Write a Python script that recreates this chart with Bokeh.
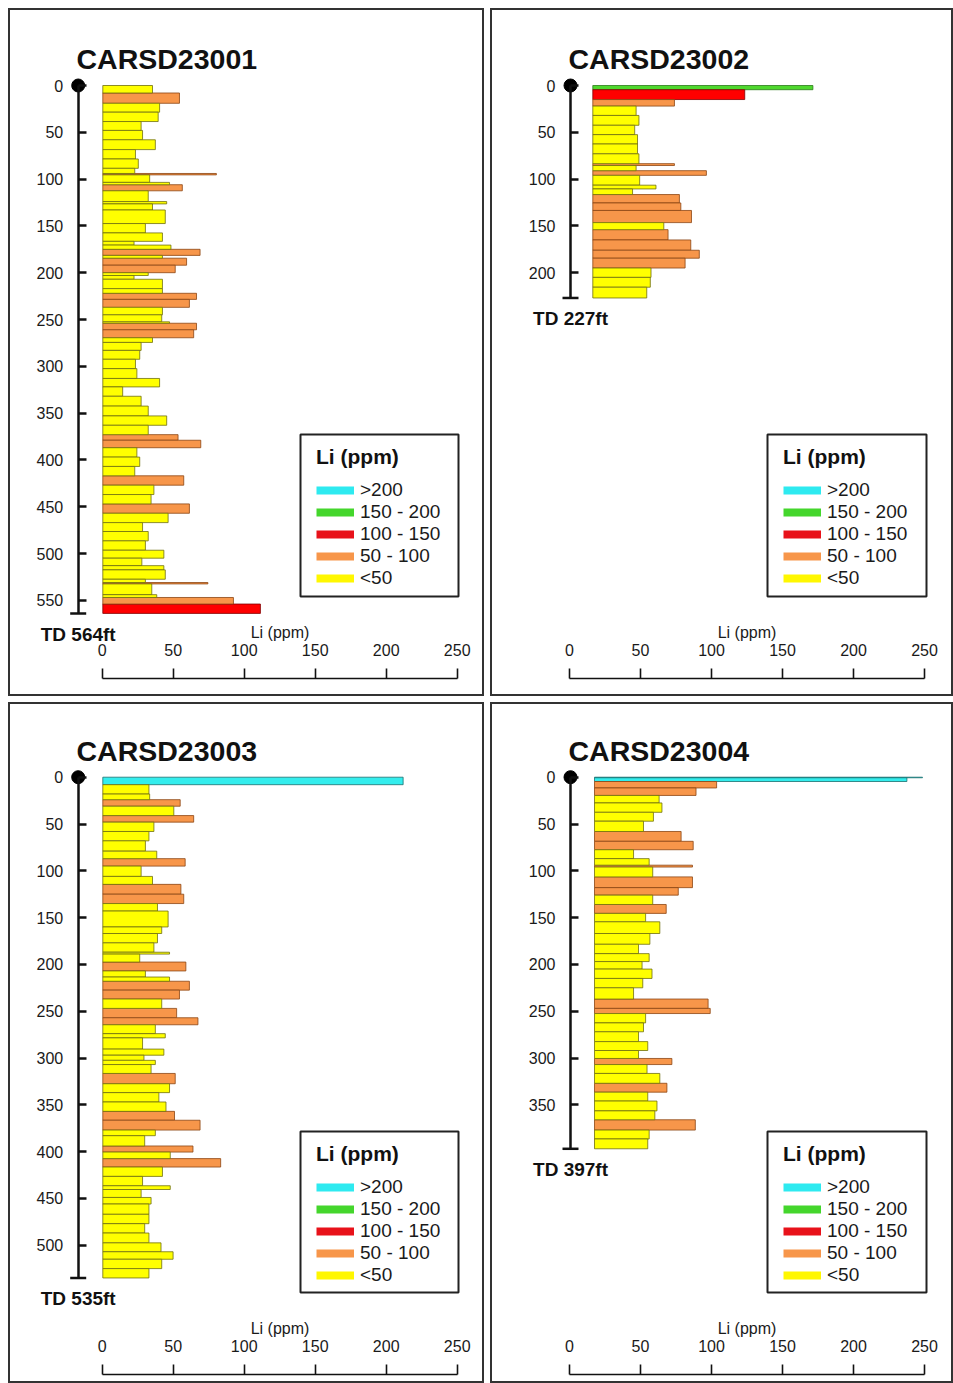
from bokeh.plotting import figure
from bokeh.models import Range1d, LinearAxis, FixedTicker, Legend, LegendItem, ColumnDataSource
from bokeh.layouts import column, row
from bokeh.embed import file_html
from bokeh.resources import INLINE
from bokeh.core.properties import value

# ---------------- data ----------------
wells = ["CARSD23001", "CARSD23002", "CARSD23003", "CARSD23004"]
td_ft = [564, 227, 535, 397]
depth_ticks = [list(range(0, 551, 50)), list(range(0, 201, 50)),
               list(range(0, 501, 50)), list(range(0, 351, 50))]
li_ticks = [0, 50, 100, 150, 200, 250]
class_labels = [">200", "150 - 200", "100 - 150", "50 - 100", "<50"]

w1_top = [0, 8, 19, 28.5, 38.5, 48, 58, 68.5, 78.5, 88.5, 94, 95.5, 103.5, 106, 112.5, 124, 126.5,
          133, 147.5, 157.5, 166.5, 170.5, 175, 181.5, 184.5, 192, 200, 203, 207, 217, 222, 228.5,
          237, 245, 252.5, 254, 261, 269.5, 274.5, 283, 292.5, 302.5, 313, 322, 332, 342.5, 353,
          363, 373, 379, 387, 397, 407, 417, 427, 437, 447, 457, 467, 476.5, 486.5, 496.5, 505,
          513, 517.5, 527.5, 531, 532.5, 544, 547, 554]
w1_bottom = [8, 19, 28.5, 38.5, 48, 58, 68.5, 78.5, 88.5, 94, 95.5, 103.5, 106, 112.5, 124, 126.5, 133,
             147.5, 157.5, 166.5, 170.5, 175, 181.5, 184.5, 192, 200, 203, 207, 217, 222, 228.5, 237,
             245, 252.5, 254, 261, 269.5, 274.5, 283, 292.5, 302.5, 313, 322, 332, 342.5, 353, 363,
             373, 379, 387, 397, 407, 417, 427, 437, 447, 457, 467, 476.5, 486.5, 496.5, 505, 513,
             517.5, 527.5, 531, 532.5, 544, 547, 554, 564]
w1_li = [35, 54, 40, 39, 27, 28, 37, 23, 25, 22.5, 80, 33, 47, 56, 32, 45, 35,
         44, 30, 42, 22, 48, 68.5, 42, 59, 51, 32, 22, 42, 42, 66, 61,
         42, 41.5, 47, 66, 64, 35, 27, 26, 23, 24, 40, 14, 27, 32, 45,
         32, 53, 69, 24, 26, 22.5, 57, 36, 34, 61, 46, 28, 32, 30, 43, 27.5,
         43, 44, 30, 74, 34.5, 38, 92, 111]

w2_top = [0, 4.5, 15, 22, 32, 42.5, 52.5, 62.5, 73, 83.5, 85.5, 91, 96, 106.5, 110.5, 116.5,
          125.5, 133.5, 146.5, 154, 165, 176, 184.5, 195, 205, 215.5]
w2_bottom = [4.5, 15, 22, 32, 42.5, 52.5, 62.5, 73, 83.5, 85.5, 91, 96, 106.5, 110.5, 116.5, 125.5,
             133.5, 146.5, 154, 165, 176, 184.5, 195, 205, 215.5, 227]
w2_li = [155, 107, 57.5, 30.5, 32.5, 29.5, 31.5, 31.5, 32.5, 57.5, 30.5, 80, 33, 44.5, 28, 61,
         62, 69.5, 50, 53, 69, 75, 65, 41, 40.5, 38]

w3_top = [0, 8, 18, 24, 31, 41, 48, 58, 68, 79, 87, 95, 106, 114.5, 125, 135, 143, 160, 167, 177,
          187, 189, 197.5, 207, 213.5, 218, 227.5, 237, 247, 257, 264.5, 274, 278.5, 290.5, 297,
          302.5, 307, 316.5, 327.5, 337, 347, 357, 366.5, 377, 383, 394, 400.5, 407.5, 416.5,
          426.5, 436.5, 440.5, 449, 456, 467, 477, 487, 497.5, 507, 515, 525]
w3_bottom = [8, 18, 24, 31, 41, 48, 58, 68, 79, 87, 95, 106, 114.5, 125, 135, 143, 160, 167, 177, 187,
             189, 197.5, 207, 213.5, 218, 227.5, 237, 247, 257, 264.5, 274, 278.5, 290.5, 297, 302.5,
             307, 316.5, 327.5, 337, 347, 357, 366.5, 377, 383, 394, 400.5, 407.5, 416.5, 426.5,
             436.5, 440.5, 449, 456, 467, 477, 487, 497.5, 507, 515, 525, 535]
w3_li = [211.5, 32.5, 33, 54.5, 50, 64, 36, 32.5, 30, 38, 58, 27, 35, 55, 57, 38.5, 46, 41.5, 38.5, 36,
         47, 26, 58.5, 30, 47, 61, 54, 41.5, 52, 67, 37, 44, 28, 43, 29,
         37, 34, 51, 47, 39.5, 44.5, 50.5, 68.5, 37, 29.5, 63.5, 47.5, 83, 42,
         28, 47.5, 27, 34, 32.5, 32.5, 29.5, 32.5, 41, 49.5, 41.5, 32.5]

w4_top = [0, 0.6, 4.6, 11.5, 19.5, 27.5, 37.5, 47, 58, 68.5, 77.5, 87, 94, 96, 106.5, 118, 126, 136,
          145.5, 154.5, 167, 178.5, 188.5, 197, 205, 215, 225, 237, 247, 252.5, 262.5, 272, 282.5,
          292, 300.5, 307, 316.5, 327, 336.5, 346, 356.5, 366, 377, 386.5]
w4_bottom = [0.6, 4.6, 11.5, 19.5, 27.5, 37.5, 47, 58, 68.5, 77.5, 87, 94, 96, 106.5, 118, 126, 136,
             145.5, 154.5, 167, 178.5, 188.5, 197, 205, 215, 225, 237, 247, 252.5, 262.5, 272, 282.5,
             292, 300.5, 307, 316.5, 327, 336.5, 346, 356.5, 366, 377, 386.5, 397]
w4_li = [231, 220, 86, 71.5, 45.5, 47.5, 41.5, 34.5, 61, 69.5, 27.5, 38.5, 69, 41, 69, 59, 41, 50.5,
         36, 46, 39, 31, 38.5, 33.5, 40.5, 34, 27.5, 80, 81.5, 36, 34.5, 31, 37.5,
         31, 54.5, 37, 46, 51, 37.5, 44, 42.5, 71, 38.5, 37.5]

tops = [w1_top, w2_top, w3_top, w4_top]
bottoms = [w1_bottom, w2_bottom, w3_bottom, w4_bottom]
lis = [w1_li, w2_li, w3_li, w4_li]

# ---------------- styles / layout ----------------
FONT = "Liberation Sans"
SX = 1.42    # px per ppm
SY = 0.936   # px per ft
bar_fill = ["#33EDED", "#4FD82E", "#FF0000", "#F7964A", "#FFFF00"]
bar_line = ["#1B6E6E", "#2C7A1A", "#800000", "#8B4513", "#6E6E10"]
leg_color = ["#2EEAF0", "#44D62C", "#E8121A", "#F7964A", "#FFF700"]

panels = [
    dict(W=476, H=688, bar_x0=94.3, axis_x=69.7, depth0=77.0, scale_x0=93.7, scale_y=670.3,
         title_x=68, title_y=50, leg_left=292, leg_top=426, leg_right=450, leg_bottom=588),
    dict(W=463, H=688, bar_x0=102.3, axis_x=80.0, depth0=77.0, scale_x0=79.0, scale_y=670.3,
         title_x=78, title_y=50, leg_left=277, leg_top=426, leg_right=436, leg_bottom=588),
    dict(W=476, H=681, bar_x0=94.3, axis_x=69.7, depth0=74.7, scale_x0=93.7, scale_y=672.0,
         title_x=68, title_y=48, leg_left=292, leg_top=429, leg_right=450, leg_bottom=590),
    dict(W=463, H=681, bar_x0=104.0, axis_x=80.0, depth0=74.7, scale_x0=79.0, scale_y=672.0,
         title_x=78, title_y=48, leg_left=277, leg_top=429, leg_right=436, leg_bottom=590),
]


def category(v):
    if v > 200:
        return 0
    if v > 150:
        return 1
    if v > 100:
        return 2
    if v > 50:
        return 3
    return 4


def make_panel(i):
    L = panels[i]
    W, H = L["W"], L["H"]

    def px2x(px):
        return (px - L["bar_x0"]) / SX

    def py2y(py):
        return (py - L["depth0"]) / SY

    p = figure(width=W, height=H,
               x_range=Range1d(px2x(0), px2x(W)),
               y_range=Range1d(py2y(H), py2y(0)),
               output_backend="svg", toolbar_location=None,
               x_axis_type=None, y_axis_type=None, min_border=0)
    p.outline_line_color = "#333333"
    p.outline_line_width = 3
    p.background_fill_color = "white"
    p.border_fill_color = "white"

    # bars
    for c in range(5):
        idx = [k for k, v in enumerate(lis[i]) if category(v) == c]
        if not idx:
            continue
        src = ColumnDataSource(dict(top=[tops[i][k] for k in idx],
                                    bottom=[bottoms[i][k] for k in idx],
                                    li=[lis[i][k] for k in idx]))
        p.quad(left=0, right="li", top="top", bottom="bottom", source=src,
               fill_color=bar_fill[c], line_color=bar_line[c], line_width=0.8)

    td = td_ft[i]
    # depth axis
    ya = LinearAxis(fixed_location=px2x(L["axis_x"]), bounds=(0, td),
                    ticker=FixedTicker(ticks=depth_ticks[i]),
                    major_tick_in=8, major_tick_out=0, minor_tick_line_color=None,
                    axis_line_width=2.5, major_tick_line_width=2.5,
                    axis_line_color="#111111", major_tick_line_color="#111111",
                    major_label_standoff=15, major_label_text_font=FONT,
                    major_label_text_font_size="16px", major_label_text_color="#1a1a1a")
    p.add_layout(ya, "left")

    # Li scale axis
    p.extra_x_ranges = {"scale": Range1d((0 - L["scale_x0"]) / SX, (W - L["scale_x0"]) / SX)}
    xa = LinearAxis(x_range_name="scale", fixed_location=py2y(L["scale_y"]), bounds=(0, 250),
                    ticker=FixedTicker(ticks=li_ticks),
                    major_tick_out=10, major_tick_in=0, minor_tick_line_color=None,
                    axis_line_width=1.6, major_tick_line_width=1.6,
                    axis_line_color="#111111", major_tick_line_color="#111111",
                    major_label_standoff=13, major_label_text_font=FONT,
                    major_label_text_font_size="16px", major_label_text_color="#1a1a1a",
                    axis_label="Li (ppm)", axis_label_text_font=FONT,
                    axis_label_text_font_style="normal", axis_label_text_font_size="16px",
                    axis_label_text_color="#1a1a1a", axis_label_standoff=0)
    p.add_layout(xa, "above")

    # surface dot and TD tick
    p.scatter(x=[px2x(L["axis_x"])], y=[0], size=13, color="black")
    p.segment(x0=[px2x(L["axis_x"] - 8)], x1=[px2x(L["axis_x"] + 8)], y0=[td], y1=[td],
              line_width=2.5, line_color="#111111")
    p.text(x=[px2x(L["axis_x"])], y=[td + 21 / SY], text=[f"TD {td}ft"],
           text_align="center", text_baseline="middle", text_font=value(FONT),
           text_font_style="bold", text_font_size="19px", text_color="#111111")

    # title
    p.text(x=[px2x(L["title_x"])], y=[py2y(L["title_y"])], text=[wells[i]],
           text_align="left", text_baseline="middle", text_font=value(FONT),
           text_font_style="bold", text_font_size="28.5px", text_color="#111111")

    # legend box
    p.quad(left=[px2x(L["leg_left"])], right=[px2x(L["leg_right"])],
           top=[py2y(L["leg_top"])], bottom=[py2y(L["leg_bottom"])],
           fill_color="white", line_color="#222222", line_width=2)
    items = []
    off_x = px2x(-500)
    off_y = py2y(-500)
    for c in range(5):
        # swatch renderers: their points sit outside the visible ranges
        r = p.line(x=[off_x, off_x - 1], y=[off_y, off_y], line_color=leg_color[c],
                   line_width=8, line_cap="butt")
        items.append(LegendItem(label=class_labels[c], renderers=[r]))
    leg = Legend(items=items, title="Li (ppm)",
                 location=(L["leg_left"] + 16, H - (L["leg_top"] + 155)),
                 padding=0, margin=0, spacing=0, glyph_width=38, glyph_height=22,
                 label_height=22, label_standoff=6, title_standoff=10,
                 border_line_color=None, background_fill_alpha=0,
                 label_text_font=FONT, label_text_font_size="19px", label_text_color="#1a1a1a",
                 title_text_font=FONT, title_text_font_size="21px", title_text_font_style="bold",
                 title_text_color="#111111")
    p.add_layout(leg, "center")
    return p


figs = [make_panel(i) for i in range(4)]
layout = column(row(figs[0], figs[1], spacing=6), row(figs[2], figs[3], spacing=6),
                spacing=6, margin=(8, 0, 0, 8))

open("out.html", "w").write(file_html(layout, INLINE))
